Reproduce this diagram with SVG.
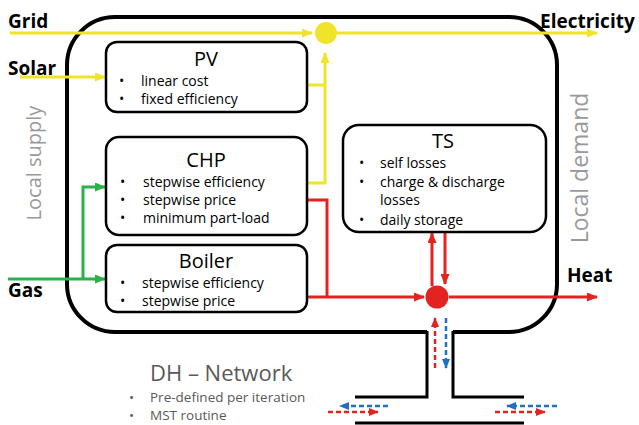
<svg xmlns="http://www.w3.org/2000/svg" width="639" height="425" viewBox="0 0 639 425">
<defs>
<style>
.box{fill:#fff;stroke:#000;stroke-width:2.5}
.title{font-family:"Open Sans","Noto Sans",sans-serif;font-size:20px;fill:#000;text-anchor:middle}
.item{font-family:"Open Sans","Noto Sans",sans-serif;font-size:14px;fill:#000}
.lbl{font-family:"Open Sans","Noto Sans",sans-serif;font-size:19px;font-weight:bold;fill:#000}
.side{font-family:"Open Sans","Noto Sans",sans-serif;fill:#999;text-anchor:middle}
.gray{font-family:"Open Sans","Noto Sans",sans-serif;fill:#595959}
.y{stroke:#F0E42A;stroke-width:3;fill:none}
.r{stroke:#E3231F;stroke-width:3;fill:none}
.g{stroke:#2BB04A;stroke-width:3;fill:none}
.rd{stroke:#E3231F;stroke-width:2.5;fill:none;stroke-dasharray:5 3}
.bd{stroke:#1F70C1;stroke-width:2.5;fill:none;stroke-dasharray:5 3}
.frame{fill:none;stroke:#000;stroke-width:4}
.stem{fill:none;stroke:#000;stroke-width:3}
</style>
<marker id="ay" markerUnits="userSpaceOnUse" markerWidth="11" markerHeight="9" refX="10" refY="4.5" orient="auto"><path d="M0,0 L11,4.5 L0,9 z" fill="#F0E42A"/></marker>
<marker id="ar" markerUnits="userSpaceOnUse" markerWidth="11" markerHeight="9" refX="10" refY="4.5" orient="auto"><path d="M0,0 L11,4.5 L0,9 z" fill="#E3231F"/></marker>
<marker id="ag" markerUnits="userSpaceOnUse" markerWidth="11" markerHeight="9" refX="10" refY="4.5" orient="auto"><path d="M0,0 L11,4.5 L0,9 z" fill="#2BB04A"/></marker>
<marker id="ard" markerUnits="userSpaceOnUse" markerWidth="10" markerHeight="8" refX="9" refY="4" orient="auto"><path d="M0,0 L10,4 L0,8 z" fill="#E3231F"/></marker>
<marker id="abd" markerUnits="userSpaceOnUse" markerWidth="10" markerHeight="8" refX="9" refY="4" orient="auto"><path d="M0,0 L10,4 L0,8 z" fill="#1F70C1"/></marker>
</defs>
<rect width="639" height="425" fill="#fff"/>

<g id="frame">
<path class="frame" d="M427,332 L115,332 A48,48 0 0 1 67,284 L67,65 A48,48 0 0 1 115,17 L509,17 A48,48 0 0 1 557,65 L557,284 A48,48 0 0 1 509,332 L453,332"/>
<path class="stem" d="M427,331 L427,397 L355,397 M453,331 L453,397 L524,397 M355,423 L524,423"/>
</g>

<g id="labels">
<text class="lbl" x="8" y="28">Grid</text>
<text class="lbl" x="8" y="75">Solar</text>
<text class="lbl" x="8" y="297">Gas</text>
<text class="lbl" x="540" y="28">Electricity</text>
<text class="lbl" x="567" y="282">Heat</text>
<text class="side" font-size="20" transform="translate(41,163) rotate(-90)">Local supply</text>
<text class="side" font-size="23" transform="translate(588,168) rotate(-90)">Local demand</text>
</g>

<g id="connectors">
<path class="y" d="M10,33 L312,33" marker-end="url(#ay)"/>
<path class="y" d="M337,33 L597,33" marker-end="url(#ay)"/>
<path class="y" d="M20,77 L105,77" marker-end="url(#ay)"/>
<path class="y" d="M307,85 L325,85 M307,183 L325,183 L325,53" marker-end="url(#ay)"/>
<path class="g" d="M8,279 L105,279" marker-end="url(#ag)"/>
<path class="g" d="M83,279 L83,187 L105,187" marker-end="url(#ag)"/>
<path class="r" d="M307,200 L327,200 L327,297"/>
<path class="r" d="M307,297 L424,297" marker-end="url(#ar)"/>
<path class="r" d="M449,297 L597,297" marker-end="url(#ar)"/>
<path class="r" d="M432,286 L432,233" marker-end="url(#ar)"/>
<path class="r" d="M445,233 L445,284" marker-end="url(#ar)"/>
<path class="rd" d="M435,368 L435,318" marker-end="url(#ard)"/>
<path class="bd" d="M446,318 L446,368" marker-end="url(#abd)"/>
<path class="bd" d="M388,406 L340,406" marker-end="url(#abd)"/>
<path class="rd" d="M328,412 L378,412" marker-end="url(#ard)"/>
<path class="bd" d="M557,406 L507,406" marker-end="url(#abd)"/>
<path class="rd" d="M495,412 L545,412" marker-end="url(#ard)"/>
</g>

<g id="elec-bus"><circle cx="326" cy="33" r="11" fill="#F0E42A"/></g>
<g id="heat-bus"><circle cx="437" cy="297" r="11.5" fill="#E3231F"/></g>

<g id="pv">
<rect class="box" x="106" y="42" width="201" height="70" rx="11"/>
<text class="title" x="206" y="66">PV</text>
<text class="item" x="119" y="86">•</text><text class="item" x="141" y="86">linear cost</text>
<text class="item" x="119" y="104">•</text><text class="item" x="141" y="104">fixed efficiency</text>
</g>

<g id="chp">
<rect class="box" x="106" y="137" width="201" height="98" rx="13"/>
<text class="title" x="206" y="167">CHP</text>
<text class="item" x="120" y="187">•</text><text class="item" x="143" y="187">stepwise efficiency</text>
<text class="item" x="120" y="205">•</text><text class="item" x="143" y="205">stepwise price</text>
<text class="item" x="120" y="223">•</text><text class="item" x="143" y="223">minimum part-load</text>
</g>

<g id="boiler">
<rect class="box" x="106" y="245" width="201" height="67" rx="11"/>
<text class="title" x="206" y="268">Boiler</text>
<text class="item" x="120" y="288">•</text><text class="item" x="142" y="288">stepwise efficiency</text>
<text class="item" x="120" y="306">•</text><text class="item" x="142" y="306">stepwise price</text>
</g>

<g id="ts">
<rect class="box" x="343" y="125" width="203" height="107" rx="16"/>
<text class="title" x="443" y="148">TS</text>
<text class="item" x="359" y="168">•</text><text class="item" x="380" y="168">self losses</text>
<text class="item" x="359" y="187">•</text><text class="item" x="380" y="187">charge &amp; discharge</text>
<text class="item" x="380" y="205">losses</text>
<text class="item" x="359" y="225">•</text><text class="item" x="380" y="225">daily storage</text>
</g>

<g id="dh-network">
<text class="gray" font-size="22" x="150" y="381">DH – Network</text>
<text class="gray" font-size="13.5" x="129" y="402">•</text><text class="gray" font-size="13.5" x="150" y="402">Pre-defined per iteration</text>
<text class="gray" font-size="13.5" x="129" y="420">•</text><text class="gray" font-size="13.5" x="150" y="420">MST routine</text>
</g>
</svg>
